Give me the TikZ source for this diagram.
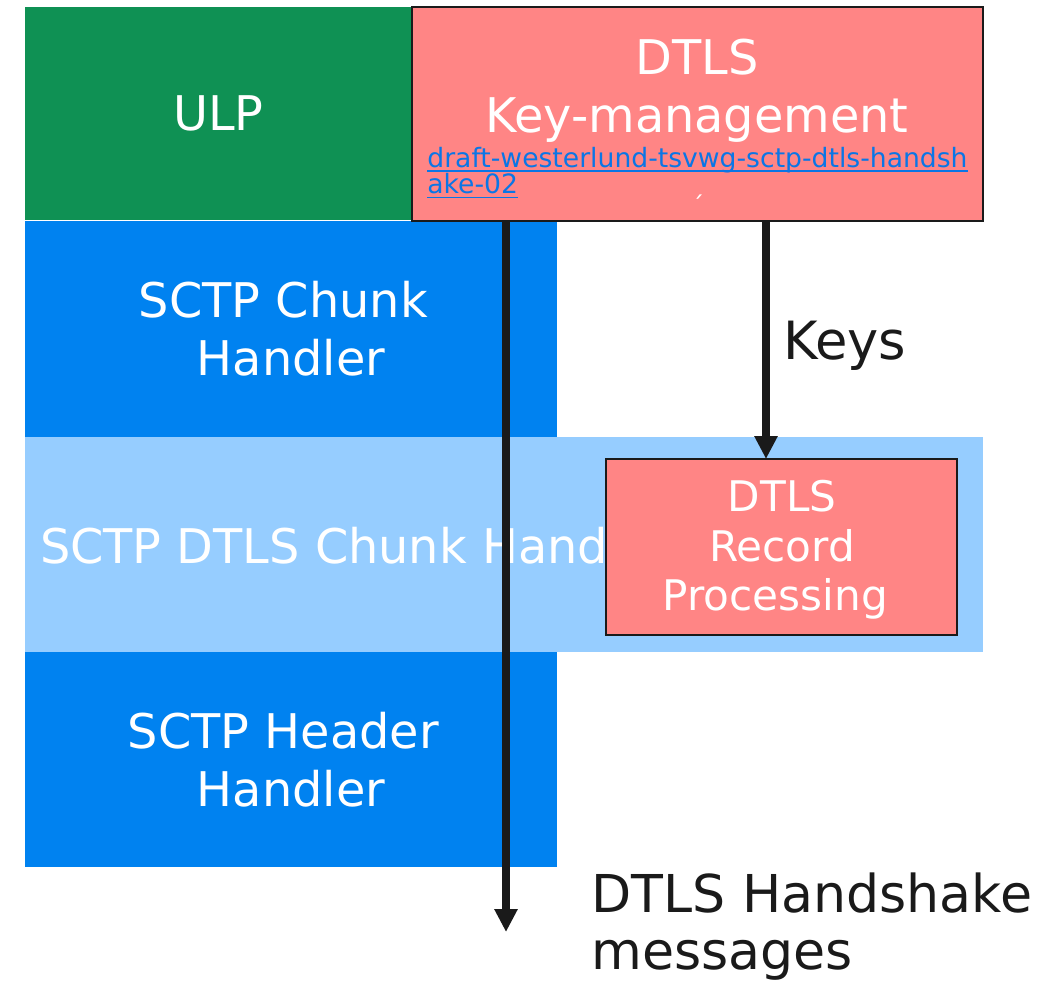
\documentclass[tikz,border=0pt]{standalone}
\usepackage{fontspec}
\setmainfont{DejaVu Sans}
\usetikzlibrary{arrows.meta, positioning}

\definecolor{ulpgreen}{RGB}{15,145,84}
\definecolor{chunkblue}{RGB}{0,130,240}
\definecolor{bandblue}{RGB}{150,205,255}
\definecolor{keyred}{RGB}{255,133,133}
\definecolor{linkblue}{RGB}{10,118,230}
\definecolor{inkdark}{RGB}{26,26,26}

% underline with a heavier rule, for the draft name
\newcommand\linkline[1]{\setbox0\hbox{#1}\rlap{\rule[-2.4pt]{\wd0}{0.9pt}}\box0}
% keeps the space a line ends with
\newcommand\tailsp{\kern0.318em}

\begin{document}
\begin{tikzpicture}[x=0.02cm, y=-0.02cm,
                    layer/.style={anchor=north west, inner sep=0pt, outer sep=0pt, text=white, align=center,
                            font=\fontsize{27.2}{33}\selectfont},
                    dtlsbox/.style={anchor=north west, inner sep=0pt, outer sep=0pt, fill=keyred,
                            draw=inkdark, line width=1.1pt},
                    outlbl/.style={inner sep=0pt, text=inkdark, align=left, font=\fontsize{30}{32.4}\selectfont},
                    arr/.style={-{Triangle[length=0.46cm, width=0.44cm]}, draw=inkdark, line width=4.5pt}]
                \useasboundingbox (0,0) rectangle (1050,983);
                % protocol layers
                \node[layer, fill=ulpgreen, minimum width=7.74cm, minimum height=4.26cm] (ulp) at (25,7) {ULP};
                \node[layer, fill=chunkblue, minimum width=10.64cm, minimum height=4.32cm] (chunk) at (25,221)
                    {SCTP Chunk\tailsp\\Handler};
                \node[layer, fill=bandblue, minimum width=19.16cm, minimum height=4.3cm] (band) at (25,437) {};
                \node[layer, anchor=west] (bandtxt) at (40,546) {SCTP DTLS Chunk Handler};
                \node[layer, fill=chunkblue, minimum width=10.64cm, minimum height=4.3cm] (header) at (25,652)
                    {SCTP Header\tailsp\\Handler};
                % DTLS boxes
                \node[dtlsbox, minimum width=11.42cm, minimum height=4.28cm] (km) at (412,7) {};
                \node[layer, anchor=center] (kmtxt) at (697,91) {DTLS\\Key-management};
                \node[anchor=north west, inner sep=0pt, text=linkblue, align=left,
                      font=\fontsize{15.15}{15}\selectfont] (draft) at (427,147)
                    {\linkline{draft-westerlund-tsvwg-sctp-dtls-handsh}\\\linkline{ake-02}};
                \node[inner sep=0pt, text=white, font=\fontsize{14}{14}\selectfont] (tick) at (698,205) {´};
                \node[dtlsbox, minimum width=7.02cm, minimum height=3.52cm] (rec) at (606,459) {};
                \node[layer, anchor=center, font=\fontsize{24}{28.3}\selectfont] (rectxt) at (782,550)
                    {DTLS\\Record\\Processing\tailsp};
                % connectors
                \coordinate (keysx) at (766,0);
                \coordinate (hsend) at (506,932);
                \draw[arr] (km.south -| keysx) -- (rec.north -| keysx);
                \draw[arr] (km.south -| hsend) -- (hsend);
                \node[outlbl, anchor=base west] (keys) at (783,359) {Keys};
                \node[outlbl, anchor=north west, font=\fontsize{29.7}{33}\selectfont] (hsmsg) at (591,872)
                    {DTLS Handshake\\messages};
            \end{tikzpicture}
\end{document}
